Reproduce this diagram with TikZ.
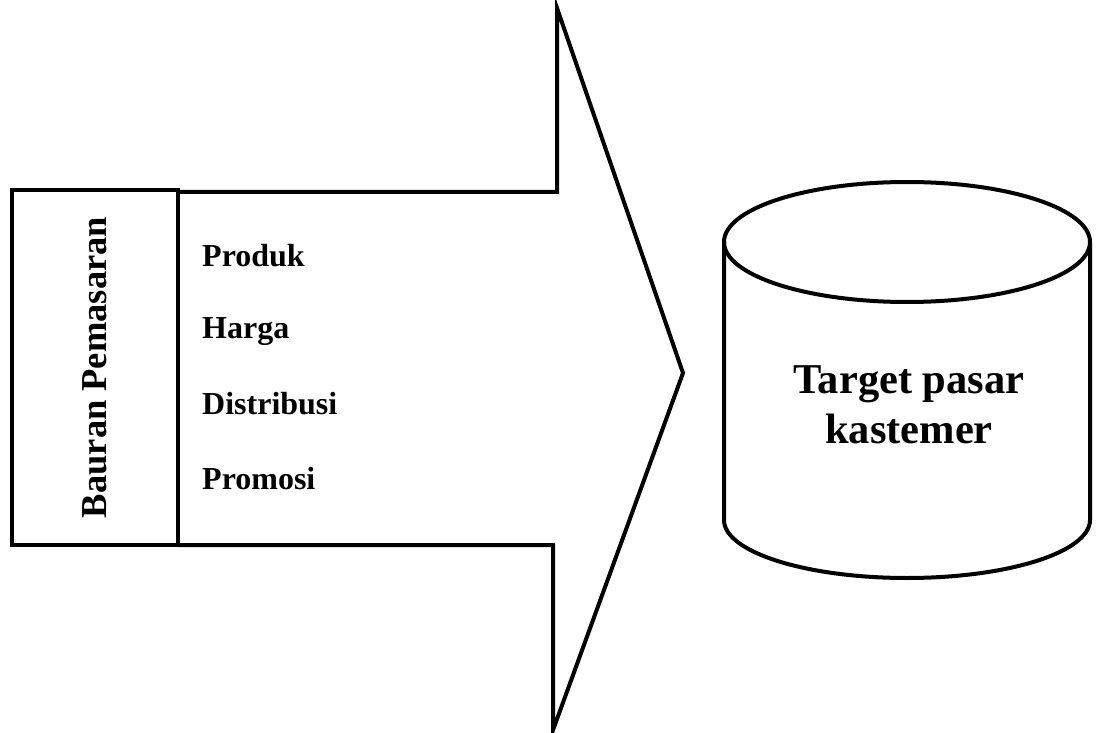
\documentclass[tikz,border=0pt]{standalone}
\usepackage{fontspec}
\setmainfont{Liberation Serif}
\usetikzlibrary{positioning}

\begin{document}
\begin{tikzpicture}[x=1pt,y=-1pt,line join=miter,
  outline/.style={draw=black,line width=4pt},
  item/.style={anchor=base west,inner sep=0pt,font=\fontsize{32}{36}\selectfont\bfseries}]
  \useasboundingbox (0,0) rectangle (1096,733);
  % arrow body and head
  \draw[outline] (178,192) -- (557,192) -- (557,8) -- (683,373) -- (553,730) -- (553,545) -- (178,545);
  % box on the tail
  \node[outline,line width=4.5pt,minimum width=166pt,minimum height=355pt,inner sep=0pt] (bauran) at (95,367.5) {};
  \node[rotate=90,font=\fontsize{36.5}{40}\selectfont\bfseries] (baurantext) at (bauran.center) {Bauran Pemasaran};
  % the four items
  \foreach \name/\txt/\yy in {produk/Produk/266,harga/Harga/338,distribusi/Distribusi/414,promosi/Promosi/489}
    \node[item] (\name) at (202,\yy) {\txt};
  % cylinder
  \draw[outline] (724,242) -- (724,520) arc[start angle=180,end angle=0,x radius=183,y radius=58] -- (1090,242);
  \draw[outline] (907,242) ellipse [x radius=183,y radius=60];
  \node[align=center,inner sep=0pt,font=\fontsize{42.5}{50}\selectfont\bfseries] (target) at (909,405) {Target pasar\\kastemer};
\end{tikzpicture}
\end{document}
